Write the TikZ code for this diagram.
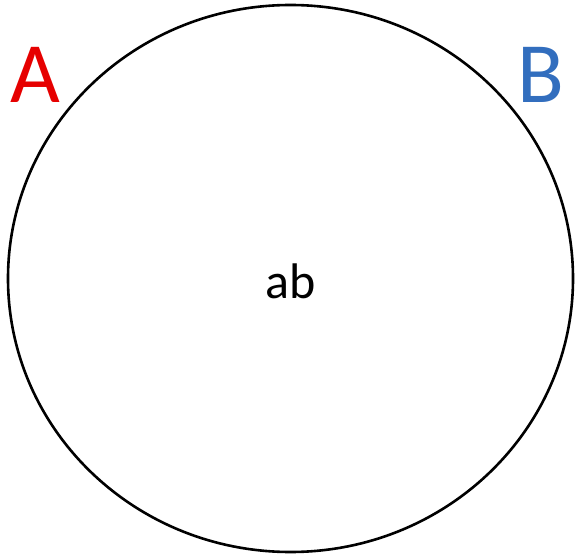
\documentclass[tikz,border=0pt]{standalone}
\usepackage{fontspec}
\setmainfont{Carlito}
\definecolor{ared}{RGB}{230,0,0}
\definecolor{bblue}{RGB}{50,110,190}
\begin{document}
\begin{tikzpicture}[x=1pt,y=-1pt,
  lbl/.style={inner sep=0pt, outer sep=0pt, anchor=base},
  setshape/.style={draw=black, line width=2.6pt, ellipse, minimum width=565pt, minimum height=547pt, inner sep=0pt}]
\useasboundingbox (0,0) rectangle (578,556);
\draw[line width=2.6pt] (290.5,278.5) ellipse [x radius=282.5, y radius=273.5];
\coordinate (c) at (290.5,278.5);
\node[lbl, text=ared, font=\fontsize{86}{86}\selectfont] (A) at (35,103) {A};
\node[lbl, text=bblue, font=\fontsize{86}{86}\selectfont] (B) at (541,103) {B};
\node[lbl, font=\fontsize{50}{50}\selectfont] (ab) at (291,298) {ab};
\end{tikzpicture}
\end{document}
